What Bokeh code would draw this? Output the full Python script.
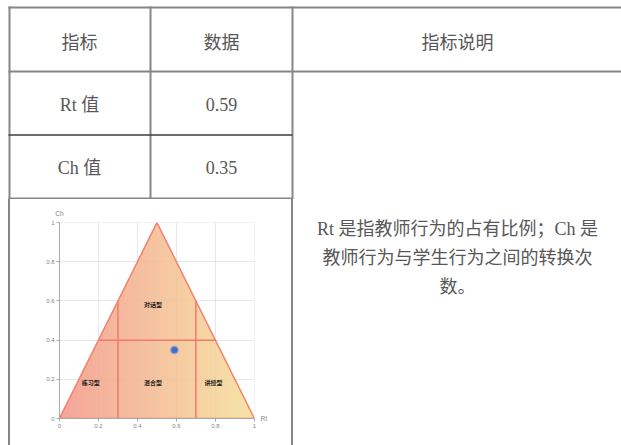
import numpy as np
from bokeh.plotting import figure
from bokeh.layouts import column, row
from bokeh.models import (Range1d, FixedTicker, NumeralTickFormatter, LinearAxis, Spacer)
from bokeh.core.properties import value
from bokeh.embed import file_html
from bokeh.resources import INLINE

# ---------------- data ----------------
header = ["指标", "数据", "指标说明"]
index_names = ["Rt 值", "Ch 值"]
index_values = ["0.59", "0.35"]
explanation_lines = ["Rt 是指教师行为的占有比例；Ch 是", "教师行为与学生行为之间的转换次", "数。"]

rt_value = [0.59]
ch_value = [0.35]
triangle_rt = [0.0, 0.5, 1.0]
triangle_ch = [0.0, 1.0, 0.0]
divider_rt = [[0.3, 0.3], [0.7, 0.7], [0.2, 0.8]]
divider_ch = [[0.0, 0.6], [0.0, 0.6], [0.4, 0.4]]
region_names = ["对话型", "练习型", "混合型", "讲授型"]
region_rt = [0.48, 0.16, 0.48, 0.79]
region_ch = [0.58, 0.185, 0.185, 0.185]
ticks = [0, 0.2, 0.4, 0.6, 0.8, 1]
tick_labels = ["0", "0.2", "0.4", "0.6", "0.8", "1"]
axis_names = ["Rt", "Ch"]

# ---------------- styles ----------------
BORDER = "#868686"
DARK = "#3c3c3c"
TXT = "#575757"
FONT_MIX = value("Liberation Serif, Noto Sans CJK SC")
CJK = value("Noto Sans CJK SC")
AX_COL = "#a8a8a8"
LBL_COL = "#858585"

PAGE_W = 621
TOP_H = 199
BOT_H = 246
PAGE_H = TOP_H + BOT_H
# chart frame (page pixels)
F_LEFT, F_RIGHT, F_TOP, F_BOTTOM = 59, 254, 222, 418
C_X0, C_X1 = 10, 291          # chart cell canvas
R_X0 = 293                    # right text cell canvas start
PAD = 0.0008                  # tiny pad so grid lines at 1 are drawn


def blank(width, height, xr, yr):
    f = figure(width=width, height=height, x_range=xr, y_range=yr,
               output_backend="svg", toolbar_location=None,
               x_axis_type=None, y_axis_type=None, min_border=0)
    f.grid.visible = False
    f.outline_line_color = None
    f.background_fill_color = "white"
    f.border_fill_color = "white"
    return f


# ---------------- top part of table (page pixel coordinates) ----------------
T = blank(PAGE_W, TOP_H, Range1d(0, PAGE_W), Range1d(TOP_H, 0))
T.segment(x0=[9, 150, 292], y0=[6, 6, 6], x1=[9, 150, 292], y1=[TOP_H, TOP_H, TOP_H],
          line_color=BORDER, line_width=2)
T.segment(x0=[8, 8, 8], y0=[7, 71, 198], x1=[PAGE_W, PAGE_W, 292], y1=[7, 71, 198],
          line_color=BORDER, line_width=2)
T.segment(x0=[8], y0=[134.5], x1=[292], y1=[134.5], line_color=DARK, line_width=1.5)

T.text(x=[79, 221, 457], y=[40, 40, 40], text=header, text_align="center",
       text_baseline="middle", text_font=CJK, text_font_size="18px", text_color=TXT)
T.text(x=[79, 79], y=[104, 167], text=index_names, text_align="center",
       text_baseline="middle", text_font=FONT_MIX, text_font_size="18px", text_color=TXT)
T.text(x=[221, 221], y=[104, 167], text=index_values, text_align="center",
       text_baseline="middle", text_font=FONT_MIX, text_font_size="18px", text_color=TXT)

# ---------------- bottom row ----------------
margin_l = Spacer(width=8, height=BOT_H)
vline_l = Spacer(width=2, height=BOT_H, styles={"background-color": BORDER})
vline_r = Spacer(width=2, height=BOT_H, styles={"background-color": BORDER})

# chart
C = figure(width=C_X1 - C_X0, height=BOT_H, x_range=Range1d(0, 1 + PAD),
           y_range=Range1d(0, 1 + PAD),
           output_backend="svg", toolbar_location=None,
           min_border_left=F_LEFT - C_X0, min_border_right=C_X1 - F_RIGHT,
           min_border_top=F_TOP - TOP_H, min_border_bottom=PAGE_H - F_BOTTOM)
C.outline_line_color = None
C.border_fill_color = "white"
for ax in (C.xaxis[0], C.yaxis[0]):
    ax.ticker = FixedTicker(ticks=ticks)
    ax.formatter = NumeralTickFormatter(format="0.[0]")
    ax.major_label_overrides = {t: l for t, l in zip(ticks, tick_labels)}
    ax.major_label_text_font_size = "6px"
    ax.major_label_text_color = LBL_COL
    ax.major_label_text_font = "Liberation Sans"
    ax.axis_line_color = AX_COL
    ax.major_tick_line_color = AX_COL
    ax.major_tick_in = 0
    ax.major_tick_out = 3
    ax.minor_tick_line_color = None
    ax.major_label_standoff = 2
C.grid.grid_line_color = "#e2e7f0"
C.grid.grid_line_width = 1

# axis names: "Ch" above the y axis, "Rt" right of the x axis
ch_axis = LinearAxis(ticker=FixedTicker(ticks=[ticks[0]]),
                     major_label_overrides={ticks[0]: axis_names[1]})
rt_axis = LinearAxis(ticker=FixedTicker(ticks=[ticks[0]]),
                     major_label_overrides={ticks[0]: axis_names[0]})
for ax in (ch_axis, rt_axis):
    ax.axis_line_color = None
    ax.major_tick_line_color = None
    ax.minor_tick_line_color = None
    ax.major_tick_out = 0
    ax.major_tick_in = 0
    ax.major_label_text_font_size = "6.5px"
    ax.major_label_text_color = LBL_COL
    ax.major_label_text_font = "Liberation Sans"
    ax.major_label_standoff = 6
    ax.major_label_orientation = "horizontal"
C.add_layout(ch_axis, "above")
C.add_layout(rt_axis, "right")

# gradient fill of triangle as an RGBA image
N = 390
gx = (np.arange(N) + 0.5) / N
gy = (np.arange(N) + 0.5) / N
GX, GY = np.meshgrid(gx, gy)
inside = GY <= np.interp(GX, triangle_rt, triangle_ch)
left_c = np.array([243.0, 150.0, 136.0])
right_c = np.array([245.0, 224.0, 152.0])
rgb = left_c[None, None, :] + (right_c - left_c)[None, None, :] * GX[..., None]
img = np.zeros((N, N), dtype=np.uint32)
view = img.view(dtype=np.uint8).reshape((N, N, 4))
view[..., 0:3] = rgb.astype(np.uint8)
view[..., 3] = np.where(inside, 217, 0).astype(np.uint8)
C.image_rgba(image=[img], x=triangle_rt[0], y=triangle_ch[0],
             dw=triangle_rt[-1] - triangle_rt[0], dh=max(triangle_ch) - min(triangle_ch))

C.patch(triangle_rt, triangle_ch, fill_color=None, line_color="#f08372", line_width=1.5)
C.multi_line(divider_rt, divider_ch, line_color="#f07a6c", line_width=1.5)
C.text(region_rt, region_ch, text=region_names, text_align="center", text_baseline="middle",
       text_font=CJK, text_font_size="6px", text_font_style="bold", text_color="#1a1a1a")
C.scatter(rt_value, ch_value, size=7.5, fill_color="#4a6ec4", line_color="#8fa8e2",
          line_width=1.2, line_alpha=0.8)

# right text cell (page pixel coordinates); nested in a column so its frame is not
# aligned with the chart frame
R = blank(PAGE_W - R_X0, BOT_H, Range1d(R_X0, PAGE_W), Range1d(PAGE_H, TOP_H))
R.text(x=[457, 457, 457], y=[228, 257, 286], text=explanation_lines, text_align="center",
       text_baseline="middle", text_font=FONT_MIX, text_font_size="18px", text_color=TXT)

layout = column(T, row(margin_l, vline_l, C, vline_r, column(R)))
open("out.html", "w").write(file_html(layout, INLINE))
